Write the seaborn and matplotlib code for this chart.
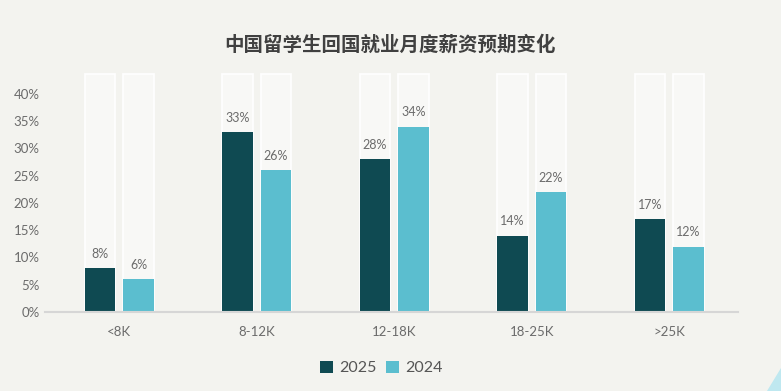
import matplotlib
matplotlib.use("Agg")
import matplotlib.pyplot as plt
import pandas as pd
import seaborn as sns
from matplotlib.patches import Polygon

# data
categories = ["<8K", "8-12K", "12-18K", "18-25K", ">25K"]
years = ["2025", "2024"]
values_2025 = [8, 33, 28, 14, 17]
values_2024 = [6, 26, 34, 22, 12]
track_max = 43.6  # height of the pale background "track" bars

df = pd.DataFrame({
    "category": categories * 2,
    "year": [years[0]] * 5 + [years[1]] * 5,
    "value": values_2025 + values_2024,
})
df["track"] = track_max

bg = "#f3f3ef"
colors = {"2025": "#0f4a52", "2024": "#5bbecf"}
text_col = "#6b6b6b"

sns.set_theme(style="white")
plt.rcParams["font.family"] = ["Lato", "Noto Sans CJK SC", "DejaVu Sans"]

fig = plt.figure(figsize=(7.81, 3.91), dpi=100, facecolor=bg)
ax = fig.add_axes([0.058, 0.202, 0.887, 0.614])
ax.set_facecolor(bg)

# background track bars
sns.barplot(data=df, x="category", y="track", hue="year", order=categories,
            hue_order=years, palette={"2025": "#f8f8f6", "2024": "#f8f8f6"},
            width=0.56, gap=0.2, edgecolor="white", linewidth=1.2,
            saturation=1, legend=False, ax=ax)

# value bars
sns.barplot(data=df, x="category", y="value", hue="year", order=categories,
            hue_order=years, palette=colors, width=0.56, gap=0.2,
            saturation=1, linewidth=0, ax=ax)

for cont in ax.containers[2:]:
    ax.bar_label(cont, labels=[f"{v:.0f}%" for v in cont.datavalues],
                 padding=6, fontsize=9, color=text_col)

ax.set_ylim(0, 44)
ax.set_xlim(-0.538, 4.5)
ax.set_yticks(range(0, 45, 5))
ax.set_yticklabels([f"{t}%" for t in range(0, 45, 5)])
ax.tick_params(axis="both", length=0, labelsize=9.5, labelcolor=text_col)
ax.tick_params(axis="x", pad=10)
ax.tick_params(axis="y", pad=4)
ax.set_xlabel("")
ax.set_ylabel("")
for s in ["top", "right", "left"]:
    ax.spines[s].set_visible(False)
ax.spines["bottom"].set_color("#d6d6d6")
ax.spines["bottom"].set_linewidth(1.5)

fig.text(0.5, 0.885, "中国留学生回国就业月度薪资预期变化", ha="center",
         va="center", fontsize=14, fontweight="bold", color="#404040",
         family=["Noto Sans CJK SC", "DejaVu Sans"])

handles, labels = ax.get_legend_handles_labels()
ax.legend(handles[-2:], labels[-2:], loc="center", bbox_to_anchor=(0.485, -0.233),
          ncol=2, frameon=False, fontsize=11.5, labelcolor="#555555",
          handlelength=0.8, handleheight=0.8, handletextpad=0.4,
          columnspacing=0.6)

# decorative corner triangle
fig.patches.append(Polygon([[0.982, 0.0], [1.0, 0.0], [1.0, 0.06]],
                           closed=True, transform=fig.transFigure,
                           facecolor="#bfe8f0", edgecolor="none"))

fig.savefig("out.png", dpi=100, facecolor=bg)
